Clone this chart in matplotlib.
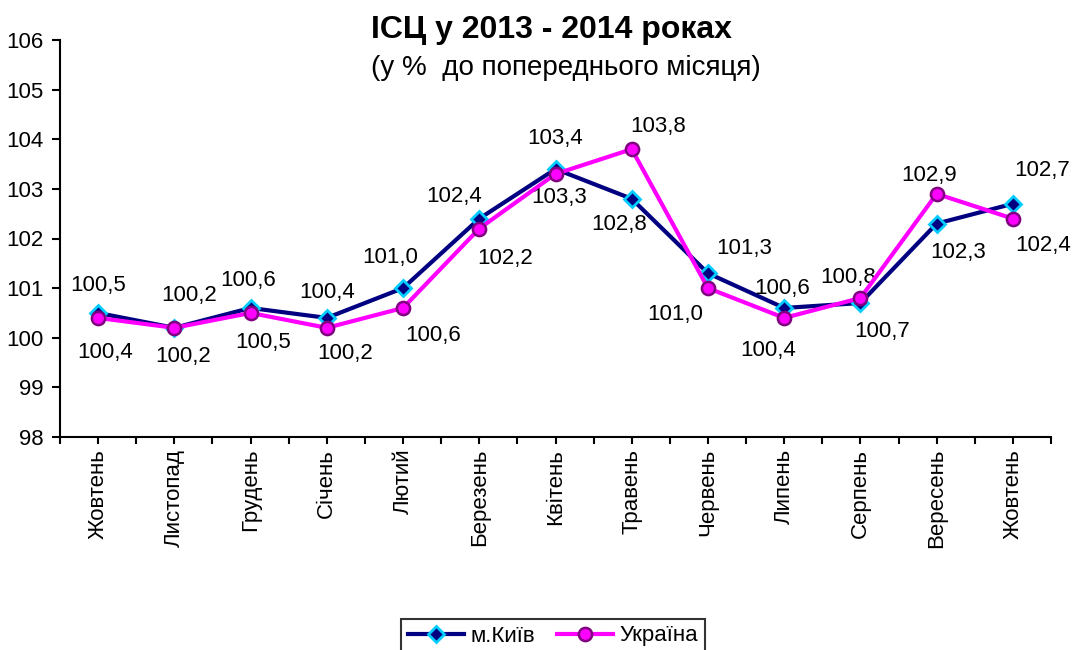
import numpy as np
import matplotlib.pyplot as plt

plt.rcParams['font.family'] = ['Liberation Sans', 'DejaVu Sans']

months = ['Жовтень', 'Листопад', 'Грудень', 'Січень', 'Лютий', 'Березень', 'Квітень',
          'Травень', 'Червень', 'Липень', 'Серпень', 'Вересень', 'Жовтень']
kyiv = [100.5, 100.2, 100.6, 100.4, 101.0, 102.4, 103.4, 102.8, 101.3, 100.6, 100.7, 102.3, 102.7]
ukraine = [100.4, 100.2, 100.5, 100.2, 100.6, 102.2, 103.3, 103.8, 101.0, 100.4, 100.8, 102.9, 102.4]

# label offsets in pixels (dx, dy)
kyiv_off = [(0, 27), (15, 32), (-2, 27), (0, 25), (-13, 31), (-25, 22), (0, 31),
            (-13, -26), (36, 25), (-2, 19), (22, -28), (21, -29), (29, 33)]
ukr_off = [(7, -35), (9, -29), (13, -30), (18, -26), (30, -28), (26, -30), (4, -24),
           (26, 23), (-33, -26), (-16, -33), (-12, 21), (-8, 18), (30, -27)]

fig = plt.figure(figsize=(10.72, 6.5), dpi=100)
ax = fig.add_axes([60/1072, 1-437/650, 991/1072, 397/650])

x = np.arange(len(months))
ax.plot(x, kyiv, color='#000080', lw=3, marker='D', ms=8.5, mfc='#000080', mec='#00ccff',
        mew=2, label='м.Київ', zorder=3)
ax.plot(x, ukraine, color='#ff00ff', lw=3, marker='o', ms=9.5, mfc='#ff00ff', mec='#800080',
        mew=1.8, label='Україна', zorder=4)

def fmt(v):
    return f'{v:.1f}'.replace('.', ',')

for xi, v, off in zip(x, kyiv, kyiv_off):
    ax.annotate(fmt(v), (xi, v), xytext=off, textcoords='offset pixels',
                ha='center', va='center', fontsize=16)
for xi, v, off in zip(x, ukraine, ukr_off):
    ax.annotate(fmt(v), (xi, v), xytext=off, textcoords='offset pixels',
                ha='center', va='center', fontsize=16)

ax.set_xlim(-0.5, len(months) - 0.5)
ax.set_ylim(98, 106)
ax.set_yticks(np.arange(98, 107, 1))
ax.set_xticks(x)
ax.set_xticks(np.arange(-0.5, len(months), 1), minor=True)
ax.set_xticklabels(months, rotation=90, fontsize=16)
ax.tick_params(axis='y', labelsize=16, direction='out', length=6, width=1.5, pad=6)
ax.tick_params(axis='x', which='both', direction='out', length=5, width=1.5)
for s in ['top', 'right']:
    ax.spines[s].set_visible(False)
for s in ['left', 'bottom']:
    ax.spines[s].set_linewidth(1.5)

fig.text(551/1072, 1-30/650, 'ІСЦ у 2013 - 2014 роках', ha='center', va='center',
         fontsize=23, fontweight='bold')
fig.text(566/1072, 1-68/650, '(у %  до попереднього місяця)', ha='center', va='center',
         fontsize=20)

leg = fig.legend(loc='center', bbox_to_anchor=(553/1072, 1-636/650), ncol=2, fontsize=16,
                 frameon=True, fancybox=False, edgecolor='black', handlelength=2.5,
                 borderpad=0.3, columnspacing=1.0, handletextpad=0.3)
leg.get_frame().set_linewidth(1.5)

fig.savefig('out.png', dpi=100)
